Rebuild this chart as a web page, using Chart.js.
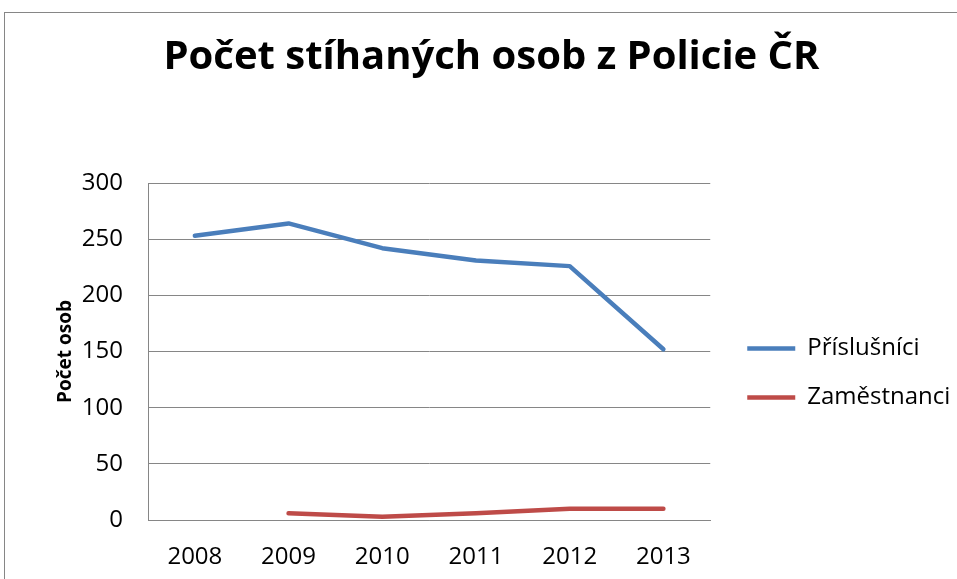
<!DOCTYPE html>
<html>
<head>
<meta charset="utf-8">
<script src="https://cdn.jsdelivr.net/npm/chart.js@4/dist/chart.umd.min.js"></script>
<style>
  body { margin: 0; background: #fff; overflow: hidden; width: 957px; height: 579px; }
  #frame { position: absolute; left: 4px; top: 12px; width: 975px; height: 580px; border: 1px solid #868686; }
</style>
</head>
<body>
<div id="frame"><canvas id="chart" width="975" height="580"></canvas></div>
<script>
const years = ['2008', '2009', '2010', '2011', '2012', '2013'];
const prislusnici = [253, 264, 242, 231, 226, 152];
const zamestnanci = [null, 6, 3, 6, 10, 10];

// nudge the legend to where Excel puts it (and keep its clip box wide enough)
const legendShift = {
  id: 'legendShift',
  afterLayout(chart) {
    const lg = chart.legend;
    lg.left += 12;
    lg.right = chart.width;
    lg.top += 21.5; lg.bottom += 21.5;
  }
};

const ctx = document.getElementById('chart').getContext('2d');
new Chart(ctx, {
  type: 'line',
  data: {
    labels: years,
    datasets: [{
      label: 'Příslušníci',
      data: prislusnici,
      borderColor: '#4A7EBB',
      backgroundColor: '#4A7EBB',
      borderWidth: 4.5,
      borderCapStyle: 'round',
      borderJoinStyle: 'round',
      pointRadius: 0,
      tension: 0
    }, {
      label: 'Zaměstnanci',
      data: zamestnanci,
      borderColor: '#BE4B48',
      backgroundColor: '#BE4B48',
      borderWidth: 4.5,
      borderCapStyle: 'round',
      borderJoinStyle: 'round',
      pointRadius: 0,
      tension: 0
    }]
  },
  options: {
    responsive: false,
    animation: false,
    layout: { padding: { left: 49, right: 51 } },
    plugins: {
      title: {
        display: true,
        text: 'Počet stíhaných osob z Policie ČR',
        color: '#000',
        font: { family: 'Open Sans', size: 40, weight: 'bold' },
        padding: { top: 21, bottom: 101 }
      },
      legend: {
        position: 'right',
        fullSize: false,
        labels: {
          color: '#000',
          font: { family: 'Open Sans', size: 24 },
          usePointStyle: true,
          pointStyle: 'line',
          pointStyleWidth: 48,
          padding: 25
        }
      },
      tooltip: { enabled: false }
    },
    scales: {
      x: {
        offset: true,
        grid: { display: false },
        border: { display: true, color: '#868686', width: 1 },
        ticks: { color: '#000', font: { family: 'Open Sans', size: 24 }, padding: 15 },
        afterFit(scale) { scale.height = 73; }
      },
      y: {
        min: 0,
        max: 300,
        ticks: { stepSize: 50, color: '#000', font: { family: 'Open Sans', size: 24 }, padding: 25 },
        grid: { color: '#868686', lineWidth: 1, drawTicks: false },
        border: { display: true, color: '#868686', width: 1 },
        title: {
          display: true,
          text: 'Počet osob',
          color: '#000',
          font: { family: 'Open Sans', size: 19, weight: 'bold' },
          padding: { top: 0, bottom: 0 }
        },
        afterFit(scale) { scale.width = 94; }
      }
    }
  },
  plugins: [legendShift]
});
</script>
</body>
</html>
